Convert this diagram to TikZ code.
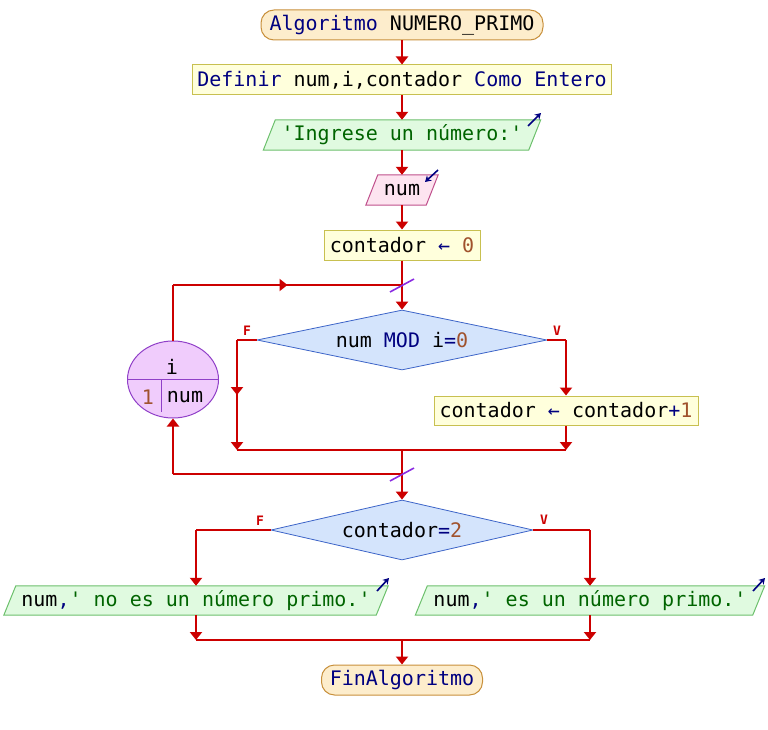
\documentclass[tikz,border=0pt]{standalone}
\usepackage{fontspec}
\setmonofont{DejaVu Sans Mono}
\usetikzlibrary{arrows.meta,shapes.geometric,decorations.markings,calc}
\definecolor{linered}{HTML}{CC0000}
\definecolor{kwblue}{HTML}{000080}
\definecolor{strgreen}{HTML}{006400}
\definecolor{numbrown}{HTML}{A0522D}
\definecolor{termfill}{HTML}{FDEDCC}
\definecolor{termborder}{HTML}{C8903C}
\definecolor{procfill}{HTML}{FFFFDC}
\definecolor{procborder}{HTML}{C8C050}
\definecolor{outfill}{HTML}{E0FAE0}
\definecolor{outborder}{HTML}{6CC06C}
\definecolor{infill}{HTML}{FDE4F0}
\definecolor{inborder}{HTML}{C0508C}
\definecolor{decfill}{HTML}{D4E4FC}
\definecolor{decborder}{HTML}{3C64C8}
\definecolor{loopfill}{HTML}{F0CCFC}
\definecolor{loopborder}{HTML}{9040C8}
\definecolor{slashcol}{HTML}{8A2BE2}
\newcommand{\kwc}[1]{\textcolor{kwblue}{#1}}
\newcommand{\strc}[1]{\textcolor{strgreen}{#1}}
\newcommand{\numc}[1]{\textcolor{numbrown}{#1}}
\pgfdeclarelayer{bg}
\pgfsetlayers{bg,main}
\tikzset{
  base/.style={font=\ttfamily\fontsize{20}{24}\selectfont, inner sep=0pt, align=center},
  term/.style={base, draw=termborder, fill=termfill, rounded corners=13pt, minimum height=30pt, line width=1pt},
  proc/.style={base, draw=procborder, fill=procfill, minimum height=30pt, line width=1pt},
  iobox/.style={base, minimum height=30pt},
  dec/.style={base, diamond, draw=decborder, fill=decfill, line width=0.8pt},
  flow/.style={draw=linered, line width=2.2pt},
  arrowend/.style={-{Triangle[width=12pt,length=8pt]}},
  midarrow/.style={postaction={decorate}, decoration={markings, mark=at position 0.5 with {\arrow[linered]{Triangle[width=12pt,length=8pt]}}}},
  branchlbl/.style={font=\ttfamily\bfseries\fontsize{13}{15}\selectfont, text=linered, inner sep=0pt},
  icon/.style={draw=kwblue, line width=1.6pt, -{Stealth[width=7pt,length=6pt]}},
  slash/.style={draw=slashcol, line width=1.6pt},
}
\begin{document}
\begin{tikzpicture}[x=1pt,y=-1pt]
\useasboundingbox (0,0) rectangle (768,730);

% nodes
\node[term, minimum width=282pt] (start) at (402,25) {\kwc{Algoritmo} NUMERO\_PRIMO};
\node[proc, minimum width=419pt] (def) at (402,80) {\kwc{Definir} num,i,contador \kwc{Como Entero}};
\node[iobox, minimum width=277pt] (out1) at (402,135) {\strc{'Ingrese un número:'}};
\node[iobox, minimum width=72pt] (inp) at (402,190) {num};
\node[proc, minimum width=156pt] (c0) at (402,245) {contador \kwc{←} \numc{0}};
\node[dec, minimum width=290pt, minimum height=60pt, aspect=4.8] (d1) at (402,340) {num \kwc{MOD} i\kwc{=}\numc{0}};
\node[proc, minimum width=264pt, minimum height=29pt] (box1) at (566,410.5) {contador \kwc{←} contador\kwc{+}\numc{1}};
\node[dec, minimum width=262pt, minimum height=60pt, aspect=4.4] (d2) at (402,530) {contador\kwc{=}\numc{2}};
\node[iobox, minimum width=384pt, minimum height=29pt] (out2) at (196,600.5) {num\kwc{,}\strc{' no es un número primo.'}};
\node[iobox, minimum width=349pt, minimum height=29pt] (out3) at (590,600.5) {num\kwc{,}\strc{' es un número primo.'}};
\node[term, minimum width=161pt] (fin) at (402,680) {\kwc{FinAlgoritmo}};

% loop node
\node[ellipse, draw=loopborder, fill=loopfill, line width=1pt, minimum width=91pt, minimum height=77pt, inner sep=0pt] (loop) at (173,379.5) {};
\draw[loopborder, line width=1pt] (loop.west) -- (loop.east);
\coordinate (lv1) at (161,380);
\coordinate (lv2) at (161,412);
\draw[loopborder, line width=1pt] (lv1) -- (lv2);
\node[base] (lvar) at (172,367) {i};
\node[base] (lstart) at (148,397) {\numc{1}};
\node[base] (lend) at (185,397) {num};

% parallelogram backgrounds
\begin{pgfonlayer}{bg}
\foreach \n/\f/\d in {out1/outfill/outborder, inp/infill/inborder, out2/outfill/outborder, out3/outfill/outborder}{
  \filldraw[fill=\f, draw=\d, line width=1pt] ([xshift=12pt]\n.north west) -- (\n.north east) -- ([xshift=-12pt]\n.south east) -- (\n.south west) -- cycle;
}
\end{pgfonlayer}

% icons
\coordinate (ic1a) at (528,126); \coordinate (ic1b) at (541,113);
\draw[icon] (ic1a) -- (ic1b);
\coordinate (ic2a) at (438,170); \coordinate (ic2b) at (425,182);
\draw[icon] (ic2a) -- (ic2b);
\coordinate (ic3a) at (377,591); \coordinate (ic3b) at (389,578);
\draw[icon] (ic3a) -- (ic3b);
\coordinate (ic4a) at (753,591); \coordinate (ic4b) at (765,578);
\draw[icon] (ic4a) -- (ic4b);

% coordinates for joins
\coordinate (j1) at (402,285);
\coordinate (lt) at (173,285);
\coordinate (fl) at (237,340);
\coordinate (fb) at (237,450);
\coordinate (vr) at (566,340);
\coordinate (vb) at (566,450);
\coordinate (jm) at (402,450);
\coordinate (j3) at (402,474);
\coordinate (lb) at (173,474);
\coordinate (f2) at (196,530);
\coordinate (v2) at (590,530);
\coordinate (m2l) at (196,640);
\coordinate (m2r) at (590,640);
\coordinate (m2) at (402,640);

% connectors
\draw[flow, arrowend] (start.south) -- (def.north);
\draw[flow, arrowend] (def.south) -- (out1.north);
\draw[flow, arrowend] (out1.south) -- (inp.north);
\draw[flow, arrowend] (inp.south) -- (c0.north);
\draw[flow, arrowend] (c0.south) -- (d1.north);
\draw[flow] (loop.north) -- (lt);
\draw[flow, midarrow] (lt) -- (j1);
\draw[flow] (d1.west) -- (fl);
\draw[flow, midarrow, arrowend] (fl) -- (fb);
\draw[flow] (fb) -- (vb);
\draw[flow] (d1.east) -- (vr);
\draw[flow, arrowend] (vr) -- (box1.north);
\draw[flow, arrowend] (box1.south) -- (vb);
\draw[flow, arrowend] (jm) -- (d2.north);
\draw[flow] (j3) -- (lb);
\draw[flow, arrowend] (lb) -- (loop.south);
\draw[flow] (d2.west) -- (f2);
\draw[flow, arrowend] (f2) -- (out2.north);
\draw[flow] (d2.east) -- (v2);
\draw[flow, arrowend] (v2) -- (out3.north);
\draw[flow, arrowend] (out2.south) -- (m2l);
\draw[flow, arrowend] (out3.south) -- (m2r);
\draw[flow] (m2l) -- (m2r);
\draw[flow, arrowend] (m2) -- (fin.north);

% slash marks
\draw[slash] ($(j1)+(-12,7)$) -- ($(j1)+(12,-6)$);
\draw[slash] ($(j3)+(-12,7)$) -- ($(j3)+(12,-6)$);

% branch labels
\node[branchlbl] (lf1) at (247,331) {F};
\node[branchlbl] (lv1t) at (557,331) {V};
\node[branchlbl] (lf2) at (260,521) {F};
\node[branchlbl] (lv2t) at (544,520) {V};
\end{tikzpicture}
\end{document}
